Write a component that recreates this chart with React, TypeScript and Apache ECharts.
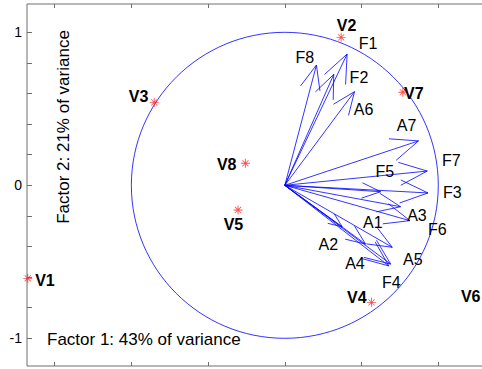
import React, { useEffect, useRef } from "react";
import * as echarts from "echarts";

// Variable loadings (arrow tips)
const arrowNames = ["F1", "F2", "F3", "F4", "F5", "F6", "F7", "F8", "A1", "A2", "A3", "A4", "A5", "A6", "A7"];
const arrowX = [0.406, 0.319, 0.933, 0.69, 0.624, 0.754, 0.928, 0.206, 0.7, 0.374, 0.815, 0.526, 0.678, 0.454, 0.871];
const arrowY = [0.858, 0.725, -0.05, -0.515, -0.042, -0.14, 0.093, 0.786, -0.405, -0.271, -0.231, -0.384, -0.527, 0.612, 0.29];
// Label anchors of the arrows
const arrowLabelX = [0.543, 0.483, 1.091, 0.694, 0.651, 0.993, 1.085, 0.131, 0.573, 0.284, 0.861, 0.457, 0.834, 0.513, 0.793];
const arrowLabelY = [0.929, 0.707, -0.045, -0.632, 0.089, -0.29, 0.164, 0.838, -0.246, -0.387, -0.197, -0.513, -0.485, 0.495, 0.392];

// Observations
const obsNames = ["V1", "V2", "V3", "V4", "V5", "V6", "V7", "V8"];
const obsX = [-1.675, 0.367, -0.851, 0.565, -0.305, 1.374, 0.769, -0.257];
const obsY = [-0.608, 0.967, 0.542, -0.765, -0.161, -0.684, 0.608, 0.144];
const obsLabelX = [-1.563, 0.402, -0.953, 0.469, -0.335, 1.211, 0.841, -0.379];
const obsLabelY = [-0.619, 1.042, 0.582, -0.733, -0.259, -0.725, 0.601, 0.133];

// Axes
const xTicks = [-1.5, -1, -0.5, 0, 0.5, 1];
const yTicks = [-1, -0.8, -0.6, -0.4, -0.2, 0, 0.2, 0.4, 0.6, 0.8, 1];
const yTickLabels = [-1, 0, 1];
const xRange = [-1.68, 1.35];
const yRange = [-1.181, 1.185];

const xTitle = "Factor 1: 43% of variance";
const yTitle = "Factor 2: 21% of variance";

const FONT = '"Liberation Sans", Arial, Helvetica, sans-serif';
const BLUE = "#0000ff";
const AXIS = "#6e6e6e";
const HEAD_RATIO = 0.21;
const HEAD_ANGLE = (22.5 * Math.PI) / 180;
const ASTERISK =
  "path://M4.5,0H5.5V10H4.5Z M0,4.5H10V5.5H0Z M1.3,1.9L1.9,1.3L8.7,8.1L8.1,8.7Z M8.1,1.3L8.7,1.9L1.9,8.7L1.3,8.1Z";

export default function App() {
  const ref = useRef<HTMLDivElement>(null);
  useEffect(() => {
    if (!ref.current) return;
    const chart = echarts.init(ref.current, null, { renderer: "svg" });

    const textSeries = (names: string[], xs: number[], ys: number[], bold: boolean) => ({
      type: "custom",
      coordinateSystem: "cartesian2d",
      silent: true,
      z: 5,
      data: xs.map((x, i) => [x, ys[i]]),
      renderItem: (params: any, api: any) => {
        const p = api.coord([api.value(0), api.value(1)]);
        return {
          type: "text",
          x: p[0],
          y: p[1],
          style: {
            text: names[params.dataIndex],
            fill: "#000",
            font: (bold ? "bold " : "") + "16px " + FONT,
            textAlign: "center",
            textVerticalAlign: "middle",
          },
        };
      },
    });

    const xAxisBase = (position: string) => ({
      type: "value",
      min: xRange[0],
      max: xRange[1],
      position,
      axisLine: { show: false, onZero: false },
      splitLine: { show: false },
      axisTick: { show: true, inside: true, length: 4, customValues: xTicks, lineStyle: { color: AXIS } },
      axisLabel: { show: false },
    });

    const option: any = {
      animation: false,
      grid: {
        left: 27,
        top: 4,
        bottom: 3,
        right: 28,
        show: true,
        borderColor: AXIS,
        borderWidth: 1,
        backgroundColor: "transparent",
      },
      xAxis: [xAxisBase("bottom"), xAxisBase("top")],
      yAxis: [
        {
          type: "value",
          min: yRange[0],
          max: yRange[1],
          position: "left",
          axisLine: { show: false, onZero: false },
          splitLine: { show: false },
          axisTick: { show: true, inside: true, length: 5, customValues: yTicks, lineStyle: { color: AXIS } },
          axisLabel: {
            show: true,
            customValues: yTickLabels,
            margin: 5,
            color: "#000",
            fontSize: 14,
            fontFamily: FONT,
            formatter: (v: number) => String(v),
          },
        },
      ],
      graphic: [
        {
          type: "text",
          left: 47,
          top: 331,
          style: { text: xTitle, fill: "#000", font: "17px " + FONT },
          silent: true,
        },
        {
          type: "text",
          x: 63,
          y: 127,
          rotation: Math.PI / 2,
          style: {
            text: yTitle,
            fill: "#000",
            font: "17px " + FONT,
            textAlign: "center",
            textVerticalAlign: "middle",
          },
          silent: true,
        },
      ],
      series: [
        {
          type: "custom",
          coordinateSystem: "cartesian2d",
          silent: true,
          data: [[0, 0, 1]],
          renderItem: (params: any, api: any) => {
            const c = api.coord([api.value(0), api.value(1)]);
            const s = api.size([api.value(2), api.value(2)]);
            return {
              type: "ellipse",
              shape: { cx: c[0], cy: c[1], rx: Math.abs(s[0]), ry: Math.abs(s[1]) },
              style: { fill: "none", stroke: BLUE, lineWidth: 0.8 },
            };
          },
        },
        {
          type: "custom",
          coordinateSystem: "cartesian2d",
          silent: true,
          data: arrowX.map((x, i) => [x, arrowY[i]]),
          renderItem: (params: any, api: any) => {
            const o = api.coord([0, 0]);
            const t = api.coord([api.value(0), api.value(1)]);
            const dx = t[0] - o[0];
            const dy = t[1] - o[1];
            const L = Math.hypot(dx, dy);
            const ux = -dx / L;
            const uy = -dy / L;
            const hl = HEAD_RATIO * L;
            const head = (a: number) => [
              t[0] + hl * (ux * Math.cos(a) - uy * Math.sin(a)),
              t[1] + hl * (ux * Math.sin(a) + uy * Math.cos(a)),
            ];
            return {
              type: "group",
              children: [
                {
                  type: "line",
                  shape: { x1: o[0], y1: o[1], x2: t[0], y2: t[1] },
                  style: { stroke: BLUE, lineWidth: 0.8 },
                },
                {
                  type: "polyline",
                  shape: { points: [head(HEAD_ANGLE), t, head(-HEAD_ANGLE)] },
                  style: { stroke: BLUE, fill: "none", lineWidth: 0.8 },
                },
              ],
            };
          },
        },
        {
          type: "scatter",
          symbol: ASTERISK,
          symbolSize: 9,
          silent: true,
          z: 4,
          itemStyle: { color: "#ff2020" },
          data: obsX.map((x, i) => [x, obsY[i]]),
        },
        textSeries(arrowNames, arrowLabelX, arrowLabelY, false),
        textSeries(obsNames, obsLabelX, obsLabelY, true),
      ],
    };
    chart.setOption(option);
    return () => chart.dispose();
  }, []);

  return (
    <div style={{ position: "fixed", left: 0, top: 0, width: 482, height: 369, overflow: "hidden", background: "#fff" }}>
      <div ref={ref} style={{ width: 520, height: 369 }} />
    </div>
  );
}
